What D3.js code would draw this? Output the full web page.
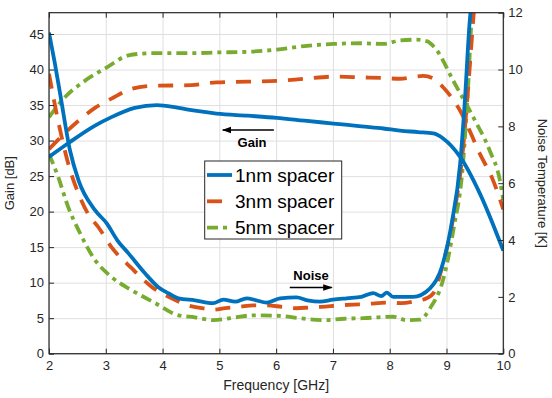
<!DOCTYPE html>
<html>
<head>
<meta charset="utf-8">
<script src="https://cdn.jsdelivr.net/npm/d3@7"></script>
<style>
  body { margin: 0; background: #fff; }
  text { font-family: "Liberation Sans", Arial, sans-serif; }
</style>
</head>
<body>
<svg id="chart"></svg>
<script>
// series names
const seriesNames = ['1nm spacer', '3nm spacer', '5nm spacer'];

// gain curves (left axis, dB)
const gain1Freq = [2.0, 2.37, 2.81, 3.1, 3.51, 3.9, 4.28, 4.57, 4.95, 5.5, 6.01, 6.5, 7.01, 7.5, 7.89, 8.18, 8.5, 8.77, 8.94, 9.24, 9.59, 10.0];
const gain1Val = [27.7, 29.8, 32.1, 33.3, 34.6, 35.0, 34.6, 34.2, 33.8, 33.5, 33.2, 32.8, 32.4, 32.0, 31.7, 31.4, 31.2, 31.0, 30.3, 27.7, 22.5, 14.5];

const gain3Freq = [2.0, 2.52, 2.81, 3.1, 3.46, 3.81, 4.51, 4.95, 5.5, 6.01, 6.5, 7.01, 7.5, 7.89, 8.18, 8.59, 8.75, 8.94, 9.24, 9.59, 9.82, 10.0];
const gain3Val = [28.8, 32.8, 34.6, 35.9, 37.3, 37.7, 37.8, 38.2, 38.3, 38.4, 38.7, 39.0, 38.9, 38.8, 38.7, 39.1, 38.8, 37.5, 34.2, 28.1, 24.4, 20.3];

const gain5Freq = [2.0, 2.28, 2.63, 3.02, 3.4, 3.81, 4.5, 4.95, 5.5, 6.01, 6.5, 7.01, 7.5, 7.89, 8.18, 8.47, 8.65, 8.83, 9.12, 9.47, 9.76, 9.94, 10.0];
const gain5Val = [33.3, 36.1, 38.4, 40.3, 42.0, 42.3, 42.3, 42.4, 42.5, 42.8, 43.3, 43.6, 43.7, 43.6, 44.1, 44.2, 44.0, 42.7, 38.4, 33.3, 28.6, 24.4, 21.6];

// noise temperature curves (right axis, K)
const noise1Freq = [2.0, 2.1, 2.2, 2.37, 2.52, 2.81, 3.02, 3.2, 3.4, 3.69, 3.92, 4.1, 4.28, 4.57, 4.89, 5.07, 5.28, 5.48, 5.65, 5.83, 6.07, 6.36, 6.55, 6.77, 7.0, 7.24, 7.5, 7.71, 7.85, 7.95, 8.06, 8.2, 8.41, 8.71, 8.91, 9.09, 9.24, 9.32, 9.41, 9.45];
const noise1Val = [11.3, 10.25, 9.1, 7.15, 6.1, 5.05, 4.58, 4.0, 3.53, 2.83, 2.35, 2.13, 1.95, 1.88, 1.78, 1.9, 1.83, 1.95, 1.88, 1.8, 1.95, 1.98, 1.88, 1.83, 1.9, 1.95, 2.0, 2.13, 2.03, 2.15, 2.0, 2.0, 2.0, 2.3, 3.0, 4.58, 6.68, 8.8, 11.73, 12.5];

const noise3Freq = [2.0, 2.16, 2.34, 2.52, 2.7, 2.87, 3.1, 3.46, 3.81, 4.16, 4.45, 4.7, 4.89, 5.1, 5.36, 5.6, 5.83, 6.1, 6.36, 6.6, 6.8, 7.1, 7.36, 7.6, 7.95, 8.2, 8.45, 8.65, 8.77, 8.94, 9.12, 9.27, 9.36, 9.47, 9.5];
const noise3Val = [9.85, 8.2, 6.68, 5.63, 4.88, 4.45, 3.75, 3.0, 2.35, 1.95, 1.7, 1.6, 1.55, 1.6, 1.65, 1.7, 1.7, 1.65, 1.6, 1.63, 1.65, 1.7, 1.73, 1.75, 1.8, 1.78, 1.85, 1.95, 2.13, 3.18, 4.8, 6.8, 8.8, 11.73, 12.5];

const noise5Freq = [2.0, 2.16, 2.34, 2.52, 2.81, 3.1, 3.46, 3.87, 4.28, 4.57, 4.89, 5.2, 5.6, 6.07, 6.4, 6.83, 7.2, 7.54, 7.8, 8.06, 8.3, 8.53, 8.72, 8.94, 9.12, 9.29, 9.38, 9.44, 9.47];
const noise5Val = [7.03, 6.23, 5.15, 4.35, 3.3, 2.7, 2.23, 1.78, 1.35, 1.28, 1.18, 1.25, 1.35, 1.33, 1.25, 1.18, 1.23, 1.25, 1.28, 1.3, 1.18, 1.2, 1.63, 2.6, 4.35, 6.68, 9.38, 11.73, 12.5];

// ticks
const xTicks = [2, 3, 4, 5, 6, 7, 8, 9, 10];
const yLeftTicks = [0, 5, 10, 15, 20, 25, 30, 35, 40, 45];
const yRightTicks = [0, 2, 4, 6, 8, 10, 12];

const width = 552;
const height = 398;
const plotL = 49, plotR = 503.3, plotT = 12.7, plotB = 353.7;
const ink = '#262626';
const colors = ['#0072BD', '#D95319', '#77AC30'];
const dashes = [null, '15,11', '11,5,4,5'];

const x = d3.scaleLinear().domain([2, 10]).range([plotL, plotR]);
const yL = d3.scaleLinear().domain([0, 48]).range([plotB, plotT]);
const yR = d3.scaleLinear().domain([0, 12]).range([plotB, plotT]);

const svg = d3.select('#chart')
  .attr('width', width)
  .attr('height', height)
  .attr('viewBox', [0, 0, width, height]);

const defs = svg.append('defs');
defs.append('clipPath').attr('id', 'plot-clip')
  .append('rect')
  .attr('x', plotL).attr('y', plotT)
  .attr('width', plotR - plotL).attr('height', plotB - plotT);

// grid
svg.append('g')
  .attr('transform', `translate(0,${plotB})`)
  .call(d3.axisBottom(x).tickValues(xTicks).tickSize(-(plotB - plotT)).tickFormat(''))
  .call((g) => g.select('.domain').remove())
  .call((g) => g.selectAll('line').attr('stroke', '#dfdfdf'));

svg.append('g')
  .attr('transform', `translate(${plotL},0)`)
  .call(d3.axisLeft(yL).tickValues(yLeftTicks).tickSize(-(plotR - plotL)).tickFormat(''))
  .call((g) => g.select('.domain').remove())
  .call((g) => g.selectAll('line').attr('stroke', '#dfdfdf'));

// curves
const series = [
  { axis: yL, fx: gain1Freq, fy: gain1Val, i: 0 },
  { axis: yL, fx: gain3Freq, fy: gain3Val, i: 1 },
  { axis: yL, fx: gain5Freq, fy: gain5Val, i: 2 },
  { axis: yR, fx: noise1Freq, fy: noise1Val, i: 0 },
  { axis: yR, fx: noise3Freq, fy: noise3Val, i: 1 },
  { axis: yR, fx: noise5Freq, fy: noise5Val, i: 2 },
];

const gLines = svg.append('g').attr('clip-path', 'url(#plot-clip)');
// draw order: green, orange, blue on top
[2, 1, 0].forEach((k) => {
  series.filter((s) => s.i === k).forEach((s) => {
    const pts = s.fx.map((f, j) => [f, s.fy[j]]);
    const line = d3.line()
      .x((d) => x(d[0]))
      .y((d) => s.axis(d[1]))
      .curve(d3.curveMonotoneX);
    gLines.append('path')
      .attr('d', line(pts))
      .attr('fill', 'none')
      .attr('stroke', colors[k])
      .attr('stroke-width', 3.8)
      .attr('stroke-dasharray', dashes[k]);
  });
});

// axes box
const axisStyle = (g) => {
  g.selectAll('.domain').remove();
  g.selectAll('line').attr('stroke', ink);
  g.selectAll('text').attr('fill', ink).attr('font-size', 13)
    .attr('font-family', '"Liberation Sans", Arial, sans-serif');
};

svg.append('g')
  .attr('transform', `translate(0,${plotB})`)
  .call(d3.axisBottom(x).tickValues(xTicks).tickSizeInner(-5).tickSizeOuter(0).tickPadding(7))
  .call(axisStyle);

svg.append('g')
  .attr('transform', `translate(0,${plotT})`)
  .call(d3.axisTop(x).tickValues(xTicks).tickSizeInner(-5).tickSizeOuter(0).tickFormat(''))
  .call(axisStyle);

svg.append('g')
  .attr('transform', `translate(${plotL},0)`)
  .call(d3.axisLeft(yL).tickValues(yLeftTicks).tickSizeInner(-5).tickSizeOuter(0).tickPadding(5))
  .call(axisStyle);

svg.append('g')
  .attr('transform', `translate(${plotR},0)`)
  .call(d3.axisRight(yR).tickValues(yRightTicks).tickSizeInner(-5).tickSizeOuter(0).tickPadding(5))
  .call(axisStyle);

svg.append('rect')
  .attr('x', plotL).attr('y', plotT)
  .attr('width', plotR - plotL).attr('height', plotB - plotT)
  .attr('fill', 'none').attr('stroke', ink).attr('stroke-width', 1.2);

// axis labels
svg.append('text')
  .attr('x', (plotL + plotR) / 2).attr('y', 390)
  .attr('text-anchor', 'middle').attr('fill', ink).attr('font-size', 14)
  .text('Frequency [GHz]');

svg.append('text')
  .attr('transform', `translate(14,${(plotT + plotB) / 2}) rotate(-90)`)
  .attr('text-anchor', 'middle').attr('fill', ink).attr('font-size', 13)
  .text('Gain [dB]');

svg.append('text')
  .attr('transform', `translate(538,${(plotT + plotB) / 2}) rotate(90)`)
  .attr('text-anchor', 'middle').attr('fill', ink).attr('font-size', 13)
  .text('Noise Temperature [K]');

// annotations
defs.append('marker')
  .attr('id', 'arrow').attr('viewBox', '0 0 10 10')
  .attr('refX', 9).attr('refY', 5)
  .attr('markerWidth', 6).attr('markerHeight', 6)
  .attr('orient', 'auto-start-reverse')
  .append('path').attr('d', 'M0,1.5 L10,5 L0,8.5 Z').attr('fill', '#000');

svg.append('line')
  .attr('x1', x(5.96)).attr('y1', 130).attr('x2', x(5.06)).attr('y2', 130)
  .attr('stroke', '#000').attr('stroke-width', 1.6).attr('marker-end', 'url(#arrow)');
svg.append('text')
  .attr('x', 252).attr('y', 147)
  .attr('text-anchor', 'middle').attr('font-weight', 'bold').attr('font-size', 13)
  .text('Gain');

svg.append('line')
  .attr('x1', x(6.24)).attr('y1', 287.5).attr('x2', x(6.98)).attr('y2', 287.5)
  .attr('stroke', '#000').attr('stroke-width', 1.6).attr('marker-end', 'url(#arrow)');
svg.append('text')
  .attr('x', 311).attr('y', 280)
  .attr('text-anchor', 'middle').attr('font-weight', 'bold').attr('font-size', 13)
  .text('Noise');

// legend
const lg = svg.append('g');
lg.append('rect')
  .attr('x', 204.7).attr('y', 161).attr('width', 137).attr('height', 78)
  .attr('fill', '#fff').attr('stroke', ink).attr('stroke-width', 1);

seriesNames.forEach((name, k) => {
  const cy = 175 + k * 26.3;
  lg.append('line')
    .attr('x1', 207).attr('x2', 232).attr('y1', cy).attr('y2', cy)
    .attr('stroke', colors[k]).attr('stroke-width', 3.8)
    .attr('stroke-dasharray', dashes[k]);
  lg.append('text')
    .attr('x', 235).attr('y', cy)
    .attr('dy', '0.36em')
    .attr('fill', '#000').attr('font-size', 19)
    .text(name);
});
</script>
</body>
</html>
